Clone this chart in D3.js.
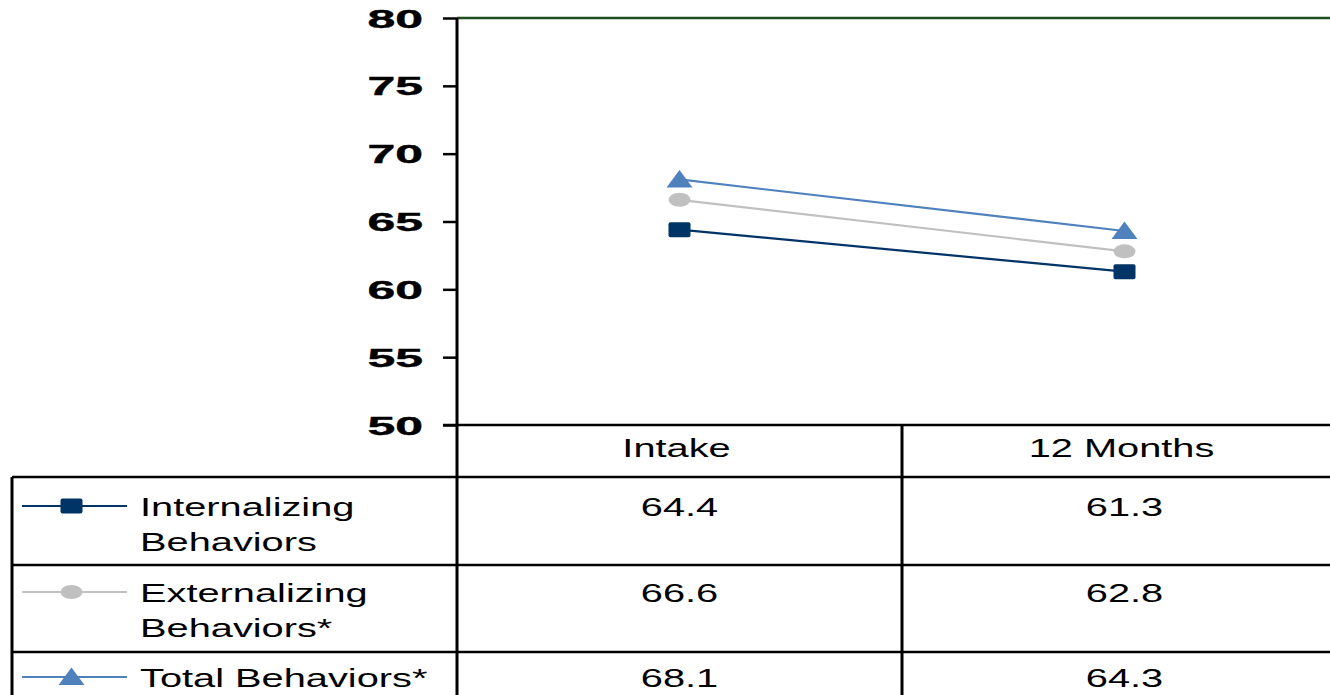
<!DOCTYPE html>
<html>
<head>
<meta charset="utf-8">
<script src="https://cdn.jsdelivr.net/npm/d3@7"></script>
<style>
  html, body { margin: 0; padding: 0; background: #fff; overflow: hidden; }
  svg { display: block; }
  text { font-family: "Liberation Sans", Arial, sans-serif; fill: #000; }
</style>
</head>
<body>
<svg id="chart" width="1330" height="695"></svg>
<script>
// Time points and behaviour scores (CBCL T-scores)
const categories = ["Intake", "12 Months"];
const seriesNames = [["Internalizing", "Behaviors"], ["Externalizing", "Behaviors*"], ["Total Behaviors*"]];
const internalizing = [64.4, 61.3];
const externalizing = [66.6, 62.8];
const totalBehaviors = [68.1, 64.3];
const yTicks = [50, 55, 60, 65, 70, 75, 80];

const series = [
  { name: seriesNames[0], values: internalizing, color: "#003366", marker: "square" },
  { name: seriesNames[1], values: externalizing, color: "#C0C0C0", marker: "circle" },
  { name: seriesNames[2], values: totalBehaviors, color: "#4F81BD", marker: "triangle" }
];

const svg = d3.select("#chart");

const plotLeft = 457, plotRight = 1347, plotTop = 18, plotBottom = 425;
const x = d3.scaleBand().domain(categories).range([plotLeft, plotRight]);
const y = d3.scaleLinear().domain([50, 80]).range([plotBottom, plotTop]);

const tableLeft = 12;
const headerBottom = 477;
const rowBottoms = [565, 652, 740];
const rowTops = [headerBottom, rowBottoms[0], rowBottoms[1]];
const rowBaselineOffset = [39, 37, 35];

// horizontally stretched text helper
function stext(parent, str, tx, ty, opts = {}) {
  return parent.append("text")
    .attr("transform", `translate(${tx},${ty}) scale(${opts.sx || 1.53},1)`)
    .attr("text-anchor", opts.anchor || "start")
    .style("font-size", (opts.size || 26) + "px")
    .style("font-weight", opts.weight || "normal")
    .text(str);
}

function drawMarker(g, type, color, cx, cy) {
  if (type === "square") {
    g.append("rect").attr("x", cx - 11).attr("y", cy - 7.5)
      .attr("width", 22).attr("height", 15).attr("rx", 2).attr("fill", color);
  } else if (type === "circle") {
    g.append("ellipse").attr("cx", cx).attr("cy", cy)
      .attr("rx", 11).attr("ry", 7).attr("fill", color);
  } else {
    g.append("path")
      .attr("d", `M${cx},${cy - 9.5} L${cx + 13},${cy + 8} L${cx - 13},${cy + 8} Z`)
      .attr("fill", color);
  }
}

// top border of plot area
svg.append("line")
  .attr("x1", plotLeft).attr("x2", 1330)
  .attr("y1", plotTop).attr("y2", plotTop)
  .attr("stroke", "#1E4D1E").attr("stroke-width", 2.5);

// y axis
const yAxis = svg.append("g")
  .attr("transform", `translate(${plotLeft},0)`)
  .call(d3.axisLeft(y).tickValues(yTicks).tickSize(14).tickFormat(d3.format("d")));
yAxis.select(".domain").remove();
yAxis.selectAll(".tick line").attr("stroke", "#000").attr("stroke-width", 2.5);
yAxis.selectAll(".tick text")
  .attr("x", null).attr("dy", "0.36em")
  .attr("transform", "translate(-34,0) scale(2,1)")
  .attr("text-anchor", "end")
  .style("font-size", "25px").style("font-weight", "bold")
  .style("font-family", "'Liberation Sans', Arial, sans-serif")
  .attr("fill", "#000")
  .attr("stroke", "#000").attr("stroke-width", 0.4);

// series lines and markers
const lineGen = d3.line()
  .x((d, i) => x(categories[i]) + x.bandwidth() / 2)
  .y(d => y(d));

series.forEach(s => {
  svg.append("path")
    .datum(s.values)
    .attr("d", lineGen)
    .attr("fill", "none")
    .attr("stroke", s.color)
    .attr("stroke-width", 2.2);
});
series.forEach(s => {
  const g = svg.append("g");
  s.values.forEach((v, i) => {
    drawMarker(g, s.marker, s.color, x(categories[i]) + x.bandwidth() / 2, y(v));
  });
});

// data table grid
const grid = svg.append("g").attr("stroke", "#000");
// vertical lines
grid.append("line").attr("x1", plotLeft).attr("x2", plotLeft)
  .attr("y1", plotTop).attr("y2", 695).attr("stroke-width", 3);
grid.append("line").attr("x1", x(categories[1])).attr("x2", x(categories[1]))
  .attr("y1", plotBottom).attr("y2", 695).attr("stroke-width", 3);
grid.append("line").attr("x1", tableLeft).attr("x2", tableLeft)
  .attr("y1", headerBottom).attr("y2", 695).attr("stroke-width", 3);
// horizontal lines
grid.append("line").attr("x1", plotLeft - 14).attr("x2", 1330)
  .attr("y1", plotBottom).attr("y2", plotBottom).attr("stroke-width", 2.5);
[headerBottom, rowBottoms[0], rowBottoms[1]].forEach(yy => {
  grid.append("line").attr("x1", tableLeft).attr("x2", 1330)
    .attr("y1", yy).attr("y2", yy).attr("stroke-width", 2.5);
});

// column headers
categories.forEach(c => {
  stext(svg, c, x(c) + x.bandwidth() / 2 - 3, 457, { anchor: "middle" });
});

// rows: legend key, series name, values
series.forEach((s, r) => {
  const top = rowTops[r];
  const base = top + rowBaselineOffset[r];
  const keyY = base - 10;
  const g = svg.append("g");
  g.append("line").attr("x1", 22).attr("x2", 127)
    .attr("y1", keyY).attr("y2", keyY)
    .attr("stroke", s.color).attr("stroke-width", 2.2);
  drawMarker(g, s.marker, s.color, 71.5, keyY);

  s.name.forEach((line, li) => {
    stext(svg, line, 140, base + li * 35);
  });
  s.values.forEach((v, i) => {
    stext(svg, d3.format(".1f")(v), x(categories[i]) + x.bandwidth() / 2, base, { anchor: "middle" });
  });
});
</script>
</body>
</html>
